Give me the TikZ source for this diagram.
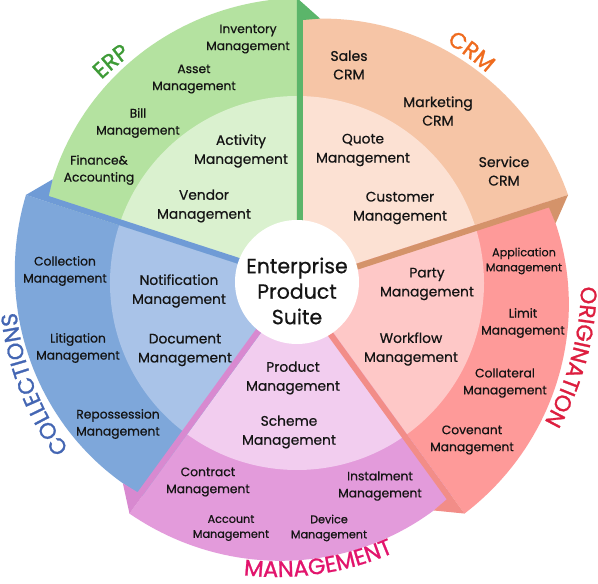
\documentclass[tikz,border=0pt]{standalone}
\usepackage{fontspec}
\setmainfont{Poppins}[FakeBold=0.6]
\newfontfamily\labfam{Poppins}[FakeBold=1.1]
\usetikzlibrary{calc,decorations.text}
\definecolor{erpD}{HTML}{B4E2A0}
\definecolor{erpL}{HTML}{DAF1CF}
\definecolor{erpF}{HTML}{5BB56A}
\definecolor{erpT}{HTML}{3E9B37}
\definecolor{crmD}{HTML}{F6C5A6}
\definecolor{crmL}{HTML}{FCE1D3}
\definecolor{crmF}{HTML}{D4936A}
\definecolor{crmT}{HTML}{EF6B1E}
\definecolor{orgD}{HTML}{FE9A99}
\definecolor{orgL}{HTML}{FEC8C7}
\definecolor{orgF}{HTML}{F28D88}
\definecolor{orgT}{HTML}{DD1E3F}
\definecolor{mgtD}{HTML}{E39BDB}
\definecolor{mgtL}{HTML}{F2CDEF}
\definecolor{mgtF}{HTML}{D889D0}
\definecolor{mgtT}{HTML}{E2146C}
\definecolor{colD}{HTML}{7EA7DA}
\definecolor{colL}{HTML}{A9C3E8}
\definecolor{colF}{HTML}{6F9BD6}
\definecolor{colT}{HTML}{4466B3}
\definecolor{txt}{HTML}{141414}
\newcommand\labfont{\labfam\fontsize{22.5}{22.5}\selectfont}
\newcommand\mysector[3]{%
  \fill[#2] (0,0) -- plot[domain=0:72, samples=49] ({#1-\x}:{263+22*(\x/72)*(1.6-0.6*\x/72)}) -- cycle;
  \fill[#3] (0,0) -- (#1:187) arc[start angle=#1, end angle=#1-72, radius=187] -- cycle;
}
\newcommand\myface[2]{%
  \fill[#2] (#1:30) -- (#1:285) -- (#1-5:265.4) -- ($(#1:263)+(#1-90:6)$) -- ($(#1:30)+(#1-90:6)$) -- cycle;
}
\begin{document}
\begin{tikzpicture}[x=1pt,y=1pt,
  itemin/.style={align=center, inner sep=0pt, font=\fontsize{13.8}{19}\selectfont, text=txt},
  itemcrm/.style={align=center, inner sep=0pt, font=\fontsize{14}{18.5}\selectfont, text=txt},
  itemout/.style={align=center, inner sep=0pt, font=\fontsize{12.3}{17}\selectfont, text=txt},
  itemsm/.style={align=center, inner sep=0pt, font=\fontsize{11.2}{15}\selectfont, text=txt},
  lab/.style={decorate},
]
\fill[white] (-297,-301) rectangle (301,283);
\useasboundingbox (-297,-301) rectangle (301,283);
% sectors
\mysector{162}{erpD}{erpL}
\mysector{90}{crmD}{crmL}
\mysector{18}{orgD}{orgL}
\mysector{-54}{mgtD}{mgtL}
\mysector{-126}{colD}{colL}
% side faces
\myface{90}{erpF}
\myface{18}{crmF}
\myface{-54}{orgF}
\myface{-126}{mgtF}
\myface{162}{colF}
% hub
\fill[white] (0,1) circle[radius=62];
\node[align=center, inner sep=0pt, font=\fontsize{20.5}{25.5}\selectfont, text=txt] (hub) at (0,-8) {Enterprise\\Product\\Suite};
% ERP
\node[itemout] (inv) at (-49,244) {Inventory\\Management};
\node[itemout] (ast) at (-103,204) {Asset\\Management};
\node[itemout] (bil) at (-159,160) {Bill\\Management};
\node[itemout] (fin) at (-198,113) {Finance\&\\Accounting};
\node[itemin] (act) at (-56,132) {Activity\\Management};
\node[itemin] (ven) at (-93,77) {Vendor\\Management};
% CRM
\node[itemcrm] (sal) at (52,218) {Sales\\CRM};
\node[itemcrm] (mkt) at (141,172) {Marketing\\CRM};
\node[itemcrm] (srv) at (207,112) {Service\\CRM};
\node[itemin] (quo) at (66,133) {Quote\\Management};
\node[itemin] (cus) at (103,75) {Customer\\Management};
% ORIGINATION
\node[itemsm] (app) at (227,22) {Application\\Management};
\node[itemout] (lim) at (226,-40) {Limit\\Management};
\node[itemout] (col) at (208,-100) {Collateral\\Management};
\node[itemout] (cov) at (175,-157) {Covenant\\Management};
\node[itemin] (par) at (130,-1) {Party\\Management};
\node[itemin] (wfl) at (114,-66) {Workflow\\Management};
% MANAGEMENT
\node[itemin] (prd) at (-4,-95) {Product\\Management};
\node[itemin] (sch) at (-8,-149) {Scheme\\Management};
\node[itemout] (con) at (-89,-199) {Contract\\Management};
\node[itemout] (ins) at (83,-203) {Instalment\\Management};
\node[itemsm] (acc) at (-66,-245) {Account\\Management};
\node[itemsm] (dev) at (32,-245) {Device\\Management};
% COLLECTIONS
\node[itemin] (ntf) at (-118,-8) {Notification\\Management};
\node[itemin] (doc) at (-112,-67) {Document\\Management};
\node[itemout] (clm) at (-232,12) {Collection\\Management};
\node[itemout] (lit) at (-219,-65) {Litigation\\Management};
\node[itemout] (rep) at (-179,-141) {Repossession\\Management};
% curved labels
\path[lab, decoration={text along path, text={|\labfont|ERP}, text align=center, text color=erpT}]
  (150:282) arc[start angle=150, end angle=110, radius=282];
\path[lab, decoration={text along path, text={|\labfont|CRM}, text align=center, text color=crmT}]
  (73:283) arc[start angle=73, end angle=33, radius=283];
\path[lab, decoration={text along path, text={|\labfont|ORIGINATION}, text align=center, text color=orgT}]
  (25:284) arc[start angle=25, end angle=-55, radius=284];
\path[lab, decoration={text along path, text={|\labfont|COLLECTIONS}, text align=center, text color=colT}]
  (240:282) arc[start angle=240, end angle=162, radius=282];
\coordinate (mgc) at (-20,-2);
\path[lab, decoration={text along path, text={|\labfont|MANAGEMENT}, text align=center, text color=mgtT}]
  ($(mgc)+(-111.5:292)$) arc[start angle=-111.5, end angle=-51.5, radius=292];
\end{tikzpicture}
\end{document}
